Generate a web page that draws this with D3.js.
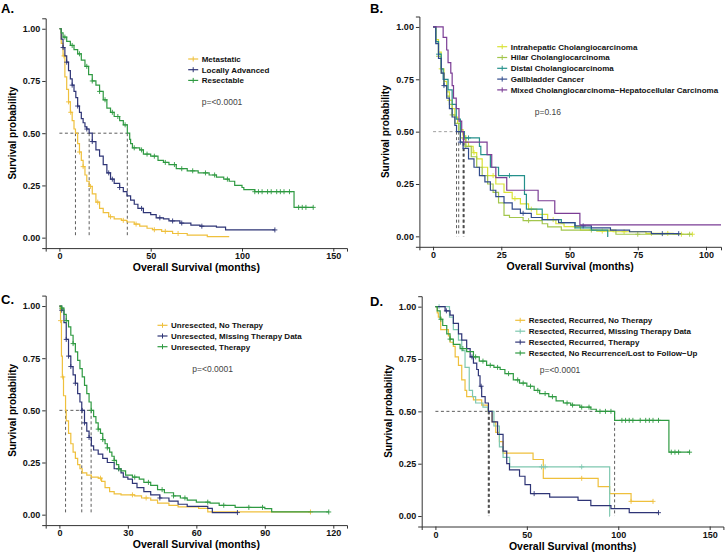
<!DOCTYPE html>
<html>
<head>
<meta charset="utf-8">
<script src="https://cdn.jsdelivr.net/npm/d3@7"></script>
<style>
  body { margin: 0; background: #fff; }
  svg text { font-family: "Liberation Sans", Arial, sans-serif; }
</style>
</head>
<body>
<svg id="chart" width="727" height="555"></svg>
<script>
// Kaplan-Meier panels, step points

// ---- panel A
var aMetT = [0, 1, 2, 3, 4, 5, 6, 7, 8, 8.8, 10, 11, 12, 13, 14, 15, 16.3, 18, 20, 22, 24, 27, 30, 34, 37, 41, 44, 48, 51, 56, 62, 70, 81, 93];
var aMetS = [1, 0.93, 0.87, 0.77, 0.71, 0.65, 0.6, 0.56, 0.52, 0.5, 0.45, 0.41, 0.37, 0.34, 0.3, 0.27, 0.245, 0.21, 0.17, 0.14, 0.12, 0.1, 0.09, 0.083, 0.075, 0.065, 0.055, 0.045, 0.038, 0.03, 0.02, 0.012, 0.005, 0.005];
var aMetC = [2.5, 5, 6.2, 11, 13, 17, 21, 28, 35, 42, 52, 58, 65];
var aLocT = [0, 1, 2, 3, 4, 5, 6, 7, 8, 9, 10, 11, 12, 13, 14, 15, 16.3, 18, 20, 22, 24, 26, 28, 30, 33, 35, 37, 39, 41, 43, 46, 50, 53, 57, 60, 66, 72, 77, 86, 91, 118];
var aLocS = [1, 0.95, 0.91, 0.87, 0.84, 0.8, 0.76, 0.73, 0.7, 0.67, 0.63, 0.6, 0.57, 0.55, 0.53, 0.52, 0.5, 0.46, 0.42, 0.39, 0.35, 0.31, 0.28, 0.26, 0.24, 0.22, 0.2, 0.18, 0.16, 0.14, 0.12, 0.11, 0.095, 0.09, 0.08, 0.07, 0.06, 0.055, 0.05, 0.037, 0.037];
var aLocC = [2, 4, 7, 10, 15, 18, 27, 29, 33, 45, 55, 62, 67, 78, 118];
var aResT = [0, 1, 2, 4, 6, 8, 10, 12, 14, 16, 18, 20, 22, 24, 26, 28, 30, 33, 35, 37.2, 38.5, 39, 40, 44, 46, 50, 54, 57, 60, 64, 70, 76, 82, 86, 90, 93, 96, 100, 101, 107, 128.5, 139];
var aResS = [1, 0.98, 0.96, 0.94, 0.92, 0.9, 0.88, 0.85, 0.82, 0.78, 0.75, 0.73, 0.7, 0.66, 0.62, 0.6, 0.58, 0.56, 0.54, 0.5, 0.47, 0.45, 0.43, 0.42, 0.4, 0.39, 0.37, 0.36, 0.35, 0.33, 0.32, 0.31, 0.3, 0.29, 0.28, 0.27, 0.25, 0.24, 0.23, 0.22, 0.145, 0.145];
var aResC = [3, 7, 11, 15, 18, 22, 25, 29, 32, 36, 41, 45, 48, 52, 58, 63, 67, 73, 80, 85, 92, 107, 109, 111, 114, 116, 119, 121, 123, 126, 131, 133, 135, 139];
var aNames = ["Metastatic", "Locally Advanced", "Resectable"];
var aMedians = [8.8, 16.3, 37.2];

// ---- panel B
var bIntT = [0, 1, 2, 3, 4, 5, 6, 7, 8, 9, 10, 11, 12, 13, 14.7, 16, 18, 20, 23, 26, 29, 32, 35, 38, 42, 45, 48, 54, 60, 66, 78, 88, 95];
var bIntS = [1, 0.94, 0.88, 0.8, 0.74, 0.69, 0.65, 0.61, 0.57, 0.54, 0.51, 0.48, 0.45, 0.43, 0.4, 0.37, 0.33, 0.29, 0.25, 0.21, 0.18, 0.155, 0.13, 0.105, 0.08, 0.06, 0.046, 0.03, 0.025, 0.022, 0.014, 0.01, 0.01];
var bIntC = [3, 6, 15, 22, 30, 36, 44, 52, 62, 70, 80, 86, 91, 95];
var bHilT = [0, 1, 2, 3, 4, 5, 6, 7, 8, 9.4, 10, 12, 14, 16, 18, 20, 22, 24, 26, 28, 33, 40, 42, 47, 67, 94];
var bHilS = [1, 0.93, 0.86, 0.78, 0.72, 0.67, 0.63, 0.58, 0.54, 0.5, 0.47, 0.43, 0.38, 0.33, 0.29, 0.25, 0.21, 0.16, 0.1, 0.09, 0.075, 0.06, 0.045, 0.03, 0.01, 0.01];
var bHilC = [2, 7, 12, 35, 58, 75, 94];
var bDisT = [0, 1, 2, 3, 3.7, 5.5, 7, 8.5, 10, 11.5, 17, 17.5, 21, 24, 33.5, 34.2, 40, 47, 52, 58, 64, 64.2];
var bDisS = [1, 0.93, 0.87, 0.8, 0.75, 0.7, 0.63, 0.56, 0.5, 0.47, 0.43, 0.39, 0.33, 0.29, 0.2, 0.13, 0.08, 0.065, 0.04, 0.03, 0, 0];
var bDisC = [2, 13, 28];
var bGalT = [0, 1, 2, 3, 4, 5, 6, 7, 8, 8.6, 10, 11, 13, 15, 17, 19, 21, 23, 26, 29, 32, 36, 40, 46, 52, 58, 65, 72, 80, 90];
var bGalS = [1, 0.92, 0.85, 0.78, 0.72, 0.66, 0.61, 0.57, 0.53, 0.5, 0.45, 0.42, 0.37, 0.33, 0.29, 0.26, 0.22, 0.19, 0.16, 0.13, 0.11, 0.09, 0.08, 0.065, 0.05, 0.04, 0.03, 0.022, 0.013, 0.013];
var bGalC = [4, 10, 33, 55, 84, 90];
var bMixT = [0, 3.7, 5, 5.5, 6.5, 7, 7.5, 8.5, 9.5, 10.5, 11.2, 19.8, 21.5, 23, 27, 38.5, 44.6, 53.8, 105.5];
var bMixS = [1, 0.95, 0.89, 0.83, 0.78, 0.72, 0.66, 0.61, 0.55, 0.5, 0.45, 0.39, 0.33, 0.28, 0.22, 0.17, 0.11, 0.055, 0.055];
var bMixC = [];
var bNames = ["Intrahepatic Cholangiocarcinoma", "Hilar Cholangiocarcinoma", "Distal Cholangiocarcinoma", "Gallbladder Cancer", "Mixed Cholangiocarcinoma\u2212Hepatocellular Carcinoma"];
var bMedians = [8.6, 9.4, 11.0, 11.2, 11.4];

// ---- panel C
var cNoT = [0, 0.5, 0.9, 1.3, 1.8, 2.7, 3, 4, 5, 6, 7, 8, 9, 10, 12, 14, 17, 18.5, 20, 22, 24, 27, 33, 36, 40, 43, 48, 52, 61, 65, 110];
var cNoS = [1, 0.93, 0.76, 0.66, 0.57, 0.5, 0.45, 0.39, 0.34, 0.3, 0.27, 0.24, 0.22, 0.2, 0.19, 0.18, 0.175, 0.16, 0.13, 0.11, 0.1, 0.095, 0.09, 0.08, 0.07, 0.055, 0.045, 0.037, 0.03, 0.013, 0.013];
var cNoC = [0.5, 1.5, 18, 32, 38, 110];
var cMisT = [0, 1, 2, 3, 4, 5, 6, 7, 8, 9, 9.8, 11, 12, 13, 14, 15, 17, 19, 21, 24, 27, 28, 30, 32, 34, 37, 40, 44, 48, 52, 56, 65, 67, 78];
var cMisS = [1, 0.98, 0.92, 0.84, 0.76, 0.71, 0.67, 0.63, 0.58, 0.54, 0.5, 0.44, 0.4, 0.37, 0.33, 0.31, 0.29, 0.27, 0.25, 0.22, 0.2, 0.18, 0.17, 0.15, 0.13, 0.11, 0.095, 0.08, 0.065, 0.05, 0.04, 0.03, 0.01, 0.01];
var cMisC = [1, 3, 4, 5, 7, 10, 11, 13, 26, 44, 78];
var cTheT = [0, 1, 2, 3, 4, 5, 6, 7, 8, 9, 10, 11, 12, 13, 13.9, 15, 16, 17, 18, 19, 20, 21, 22, 23, 24, 25, 26, 27, 29, 32, 35, 37, 40, 43, 46, 50, 53, 56, 60, 66, 70, 77, 90, 93, 118];
var cTheS = [1, 0.99, 0.96, 0.93, 0.9, 0.86, 0.82, 0.78, 0.74, 0.7, 0.66, 0.62, 0.58, 0.54, 0.5, 0.47, 0.44, 0.41, 0.39, 0.36, 0.34, 0.32, 0.3, 0.28, 0.26, 0.24, 0.22, 0.21, 0.19, 0.18, 0.17, 0.155, 0.14, 0.12, 0.105, 0.09, 0.08, 0.07, 0.06, 0.055, 0.045, 0.035, 0.029, 0.013, 0.013];
var cTheC = [1, 3, 6, 14, 17, 19, 21, 24, 26, 33, 39, 45, 50, 55, 65, 72, 83, 89, 118];
var cNames = ["Unresected, No Therapy", "Unresected, Missing Therapy Data", "Unresected, Therapy"];
var cMedians = [2.7, 9.8, 13.9];

// ---- panel D
var dNoT = [0, 1, 1.6, 2.9, 7.1, 8, 9.8, 10.8, 12.6, 14.4, 16.2, 17.1, 20.8, 25.3, 28.8, 31, 33, 35, 37, 53.4, 59, 89, 95.3, 107, 119];
var dNoS = [1, 0.97, 0.95, 0.89, 0.86, 0.83, 0.81, 0.76, 0.72, 0.65, 0.6, 0.57, 0.555, 0.53, 0.5, 0.45, 0.4, 0.355, 0.3, 0.27, 0.18, 0.14, 0.107, 0.07, 0.07];
var dNoC = [80, 107, 119];
var dMisT = [0, 7.7, 9.8, 12.6, 14.4, 16.2, 18.5, 20.3, 22, 26, 28.8, 32, 35, 37, 40.6, 95.3, 95.5];
var dMisS = [1, 0.95, 0.89, 0.84, 0.79, 0.71, 0.6, 0.57, 0.54, 0.52, 0.5, 0.43, 0.33, 0.28, 0.235, 0, 0];
var dMisC = [2, 58, 60, 80];
var dTheT = [0, 5.3, 8, 9.8, 12.6, 14.4, 17.1, 19, 20.8, 22.6, 23.5, 24.4, 25.3, 27.2, 29, 31, 34, 37, 39, 40.5, 46, 49, 52, 62.5, 78, 85, 96, 106, 122];
var dTheS = [1, 0.98, 0.96, 0.92, 0.87, 0.84, 0.8, 0.76, 0.73, 0.7, 0.67, 0.62, 0.57, 0.54, 0.5, 0.45, 0.39, 0.31, 0.25, 0.22, 0.19, 0.15, 0.107, 0.09, 0.075, 0.05, 0.035, 0.016, 0.016];
var dTheC = [6, 20, 25, 54, 122];
var dRecT = [0, 1, 2.6, 4, 6.2, 8, 9.8, 13.5, 17.1, 20.8, 24, 28, 32, 35.4, 38, 42.6, 46, 50, 54, 57, 62, 66, 70, 74, 79, 85, 88, 98, 127.7, 139];
var dRecS = [1, 0.98, 0.94, 0.91, 0.87, 0.845, 0.82, 0.8, 0.785, 0.76, 0.74, 0.72, 0.71, 0.7, 0.68, 0.65, 0.635, 0.62, 0.6, 0.585, 0.57, 0.55, 0.54, 0.53, 0.52, 0.51, 0.5, 0.457, 0.305, 0.305];
var dRecC = [3, 8, 15, 22, 26, 30, 34, 40, 45, 48, 52, 56, 60, 64, 72, 75, 80, 84, 90, 93, 96, 102, 104, 106, 108, 112, 115, 117, 119, 122, 129, 131, 133, 139];
var dNames = ["Resected, Recurred, No Therapy", "Resected, Recurred, Missing Therapy Data", "Resected, Recurred, Therapy", "Resected, No Recurrence/Lost to Follow\u2212Up"];
var dMedians = [28.9, 29.2, 29.5, 98];

var yTicks = [0, 0.25, 0.5, 0.75, 1];

var yellow = "#EFC03C", navy = "#2E3476", green = "#2F9A42";

var svg = d3.select("#chart");

function survAt(t, s, x) {
    var i = d3.bisectRight(t, x) - 1;
    return s[Math.max(0, i)];
}

function drawPanel(p) {
    var x = d3.scaleLinear().domain(p.xDomain).range([p.left, p.right]);
    var y = d3.scaleLinear().domain([-0.05, 1.05]).range([p.bottom, p.top]);
    var g = svg.append("g");

    // axes
    var xa = g.append("g").attr("transform", "translate(0," + p.bottom + ")")
        .call(d3.axisBottom(x).tickValues(p.xTicks).tickSize(3.5).tickPadding(1.5));
    var ya = g.append("g").attr("transform", "translate(" + p.left + ",0)")
        .call(d3.axisLeft(y).tickValues(yTicks).tickFormat(d3.format(".2f")).tickSize(3.5).tickPadding(2));
    [xa, ya].forEach(function(a) {
        a.select(".domain").attr("stroke", "#333").attr("stroke-width", 1);
        a.selectAll(".tick line").attr("stroke", "#333");
        a.selectAll("text").attr("font-size", "9px").attr("font-weight", "bold").attr("fill", "#111");
    });

    g.append("text").attr("x", (p.left + p.right) / 2).attr("y", p.bottom + 23)
        .attr("text-anchor", "middle").attr("font-size", "10.5px").attr("font-weight", "bold")
        .text("Overall Survival (months)");
    g.append("text").attr("transform", "translate(" + (p.left - 30) + "," + ((p.top + p.bottom) / 2) + ") rotate(-90)")
        .attr("text-anchor", "middle").attr("font-size", "10px").attr("font-weight", "bold")
        .text("Survival probability");
    g.append("text").attr("x", p.labelX).attr("y", p.labelY)
        .attr("font-size", "13px").attr("font-weight", "bold").text(p.label);

    // median lines
    var maxMed = d3.max(p.medians);
    g.append("line").attr("x1", x(0)).attr("x2", x(maxMed)).attr("y1", y(0.5)).attr("y2", y(0.5))
        .attr("stroke", p.medColor).attr("stroke-width", 0.8).attr("stroke-dasharray", "3,2.5");
    g.selectAll(".med").data(p.medians).enter().append("line")
        .attr("x1", function(d) { return x(d); }).attr("x2", function(d) { return x(d); })
        .attr("y1", y(0.5)).attr("y2", y(0))
        .attr("stroke", "#333").attr("stroke-width", 0.8).attr("stroke-dasharray", "3,2.5");

    // curves
    var line = d3.line().curve(d3.curveStepAfter)
        .x(function(d) { return x(d[0]); }).y(function(d) { return y(d[1]); });
    p.curves.forEach(function(c) {
        var pts = c.t.map(function(t, i) { return [t, c.s[i]]; });
        g.append("path").attr("d", line(pts)).attr("fill", "none")
            .attr("stroke", c.color).attr("stroke-width", 1.2);
        g.selectAll(null).data(c.cens).enter().append("path")
            .attr("d", function(d) {
                var cx = x(d), cy = y(survAt(c.t, c.s, d));
                return "M" + (cx - 2.5) + "," + cy + "H" + (cx + 2.5) + "M" + cx + "," + (cy - 2.5) + "V" + (cy + 2.5);
            })
            .attr("stroke", c.color).attr("stroke-width", 0.9);
    });

    // legend
    var lg = g.append("g");
    p.names.forEach(function(n, i) {
        var ly = p.legY + i * p.legStep;
        var c = p.curves[i].color;
        lg.append("line").attr("x1", p.legX - 13.5).attr("x2", p.legX - 3.5).attr("y1", ly).attr("y2", ly)
            .attr("stroke", c).attr("stroke-width", 1.2);
        lg.append("line").attr("x1", p.legX - 8.5).attr("x2", p.legX - 8.5).attr("y1", ly - 2.5).attr("y2", ly + 2.5)
            .attr("stroke", c).attr("stroke-width", 1);
        lg.append("text").attr("x", p.legX).attr("y", ly).attr("dy", "0.35em")
            .attr("font-size", "8px").attr("font-weight", "bold").attr("fill", "#111").text(n);
    });
    g.append("text").attr("x", p.pX).attr("y", p.pY).attr("dy", "0.35em")
        .attr("font-size", "8.5px").attr("fill", "#444").text(p.pText);
}

drawPanel({
    label: "A.", labelX: 1, labelY: 12.5,
    left: 45.7, right: 347, top: 18.3, bottom: 248.1, xDomain: [-7.5, 157.5], xTicks: [0, 50, 100, 150],
    curves: [{t: aMetT, s: aMetS, cens: aMetC, color: yellow},
             {t: aLocT, s: aLocS, cens: aLocC, color: navy},
             {t: aResT, s: aResS, cens: aResC, color: green}],
    names: aNames, medians: aMedians, medColor: "#333",
    legX: 201.7, legY: 59, legStep: 10.7, pX: 201.7, pY: 101.7, pText: "p=<0.0001"
});

drawPanel({
    label: "B.", labelX: 370, labelY: 12.5,
    left: 419.4, right: 721, top: 16.5, bottom: 246.8, xDomain: [-5, 105.5], xTicks: [0, 25, 50, 75, 100],
    curves: [{t: bIntT, s: bIntS, cens: bIntC, color: "#D9E236"},
             {t: bHilT, s: bHilS, cens: bHilC, color: "#A3C64C"},
             {t: bDisT, s: bDisS, cens: bDisC, color: "#24908B"},
             {t: bGalT, s: bGalS, cens: bGalC, color: "#304A8C"},
             {t: bMixT, s: bMixS, cens: bMixC, color: "#7B3D95"}],
    names: bNames, medians: bMedians, medColor: "#888",
    legX: 510.7, legY: 46.7, legStep: 10.8, pX: 534.7, pY: 111.7, pText: "p=0.16"
});

drawPanel({
    label: "C.", labelX: 1, labelY: 303.5,
    left: 45.7, right: 347, top: 295.6, bottom: 525.1, xDomain: [-6, 126], xTicks: [0, 30, 60, 90, 120],
    curves: [{t: cNoT, s: cNoS, cens: cNoC, color: yellow},
             {t: cMisT, s: cMisS, cens: cMisC, color: navy},
             {t: cTheT, s: cTheS, cens: cTheC, color: green}],
    names: cNames, medians: cMedians, medColor: "#333",
    legX: 171, legY: 325.3, legStep: 10.7, pX: 192.3, pY: 368.7, pText: "p=<0.0001"
});

drawPanel({
    label: "D.", labelX: 370, labelY: 306,
    left: 421.7, right: 723.4, top: 296.2, bottom: 526.5, xDomain: [-7.5, 157.5], xTicks: [0, 50, 100, 150],
    curves: [{t: dNoT, s: dNoS, cens: dNoC, color: yellow},
             {t: dMisT, s: dMisS, cens: dMisC, color: "#7FC8B0"},
             {t: dTheT, s: dTheS, cens: dTheC, color: navy},
             {t: dRecT, s: dRecS, cens: dRecC, color: green}],
    names: dNames, medians: dMedians, medColor: "#333",
    legX: 528.7, legY: 320.3, legStep: 10.9, pX: 539.7, pY: 370.3, pText: "p=<0.0001"
});
</script>
</body>
</html>
